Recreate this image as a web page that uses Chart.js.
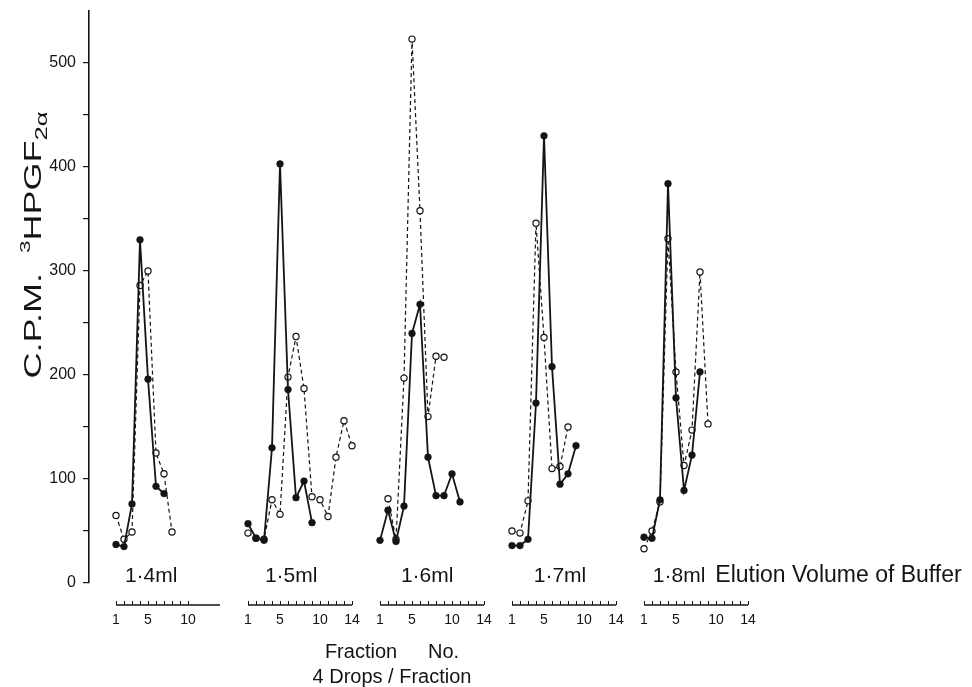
<!DOCTYPE html>
<html>
<head>
<meta charset="utf-8">
<script src="https://cdn.jsdelivr.net/npm/chart.js@4.4.1/dist/chart.umd.min.js"></script>
<style>
  html, body { margin: 0; padding: 0; background: #fff; }
  #wrap { width: 972px; height: 687px; }
</style>
</head>
<body>
<div id="wrap"><canvas id="chart" width="972" height="687"></canvas></div>
<script>
// === DATA ===
// one panel per elution volume
const volumes = ['1·4ml', '1·5ml', '1·6ml', '1·7ml', '1·8ml'];

// C.P.M. per fraction, first value = fraction 1
// filled dots, solid line
const solid14 = [37, 35, 76, 330, 196, 93, 86];
const solid15 = [57, 43, 41, 130, 403, 186, 82, 98, 58];
const solid16 = [41, 70, 40, 74, 240, 268, 121, 84, 84, 105, 78];
const solid17 = [36, 36, 42, 173, 430, 208, 95, 105, 132];
const solid18 = [44, 43, 80, 384, 178, 89, 123, 203];

// open circles, dashed line
const open14 = [65, 42, 49, 286, 300, 125, 105, 49];
const open15 = [48, 43, 42, 80, 66, 198, 237, 187, 83, 80, 64, 121, 156, 132];
const open16 = [null, 81, 42, 197, 523, 358, 160, 218, 217];
const open17 = [50, 48, 79, 346, 236, 110, 112, 150];
const open18 = [33, 50, 78, 331, 203, 113, 147, 299, 153];

const solidSeries = [solid14, solid15, solid16, solid17, solid18];
const openSeries = [open14, open15, open16, open17, open18];

// fraction scale under each panel
const fractionLabels = [[1, 5, 10], [1, 5, 10, 14], [1, 5, 10, 14], [1, 5, 10, 14], [1, 5, 10, 14]];
const fractionTickCount = [10, 14, 14, 14, 14];
const fractionAxisEnd = 14;

const yMax = 550;
const yStep = 50;

// === LAYOUT (fraction units) ===
const PANEL_STEP = 16.5;          // distance between panels, in fractions
const X_MIN = -2.375, X_MAX = 106.75;
const volumeLabelAt = [5.4, 6.4, 6.9, 7.0, 2.1];
const FONT = "'Liberation Sans', Arial, sans-serif";
const INK = '#141414';

function xOf(panel, fraction) {
    return panel * PANEL_STEP + fraction;
}

function toPoints(panel, values) {
    const pts = [];
    values.forEach((v, i) => {
        if (v !== null) pts.push({ x: xOf(panel, i + 1), y: v });
    });
    return pts;
}

const datasets = [];
volumes.forEach((vol, p) => {
    datasets.push({
        label: vol + ' solid',
        data: toPoints(p, solidSeries[p]),
        borderColor: INK,
        borderWidth: 1.8,
        pointRadius: 3.4,
        pointBackgroundColor: INK,
        pointBorderColor: INK,
        pointBorderWidth: 0.5,
        tension: 0
    });
});
volumes.forEach((vol, p) => {
    datasets.push({
        label: vol + ' open',
        data: toPoints(p, openSeries[p]),
        borderColor: INK,
        borderWidth: 1.2,
        borderDash: [4, 3],
        pointRadius: 3.1,
        pointBackgroundColor: '#fff',
        pointBorderColor: INK,
        pointBorderWidth: 1.2,
        tension: 0
    });
});

// === extra drawing: axis title, panel labels, fraction scales ===
const decorPlugin = {
    id: 'decor',
    afterDraw(chart) {
        const ctx = chart.ctx;
        const xs = chart.scales.x;
        ctx.save();
        ctx.fillStyle = INK;
        ctx.strokeStyle = INK;

        // y title: C.P.M. 3HPGF2α
        ctx.save();
        ctx.translate(41, 245);
        ctx.rotate(-Math.PI / 2);
        ctx.scale(1.5, 1);
        const parts = [
            { t: 'C.P.M.  ', size: 24, dy: 0 },
            { t: '3', size: 15, dy: -11 },
            { t: 'HPGF', size: 24, dy: 0 },
            { t: '2α', size: 17, dy: 6 }
        ];
        let total = 0;
        parts.forEach(pt => { ctx.font = pt.size + 'px ' + FONT; pt.w = ctx.measureText(pt.t).width; total += pt.w; });
        let cx = -total / 2;
        ctx.textBaseline = 'alphabetic';
        ctx.textAlign = 'left';
        parts.forEach(pt => {
            ctx.font = pt.size + 'px ' + FONT;
            ctx.fillText(pt.t, cx, pt.dy);
            cx += pt.w;
        });
        ctx.restore();

        // panel labels
        ctx.font = '21px ' + FONT;
        ctx.textBaseline = 'alphabetic';
        volumes.forEach((vol, p) => {
            const x = xs.getPixelForValue(xOf(p, volumeLabelAt[p]));
            if (p === volumes.length - 1) {
                ctx.textAlign = 'left';
                ctx.fillText(vol, x, 582);
                const w = ctx.measureText(vol).width;
                ctx.font = '23px ' + FONT;
                ctx.fillText('Elution Volume of Buffer', x + w + 10, 582);
                ctx.font = '21px ' + FONT;
            } else {
                ctx.textAlign = 'center';
                ctx.fillText(vol, x, 582);
            }
        });

        // fraction scales
        const yLine = 605;
        volumes.forEach((vol, p) => {
            const a = xs.getPixelForValue(xOf(p, 1));
            const b = xs.getPixelForValue(xOf(p, fractionAxisEnd));
            ctx.lineWidth = 1.5;
            ctx.beginPath();
            ctx.moveTo(a, yLine);
            ctx.lineTo(b, yLine);
            ctx.stroke();
            ctx.lineWidth = 1;
            for (let f = 1; f <= fractionTickCount[p]; f++) {
                const x = Math.round(xs.getPixelForValue(xOf(p, f))) + 0.5;
                ctx.beginPath();
                ctx.moveTo(x, yLine);
                ctx.lineTo(x, yLine - 4);
                ctx.stroke();
            }
            ctx.font = '14px ' + FONT;
            ctx.textAlign = 'center';
            fractionLabels[p].forEach(f => {
                ctx.fillText(String(f), xs.getPixelForValue(xOf(p, f)), 624);
            });
        });

        ctx.font = '20px ' + FONT;
        ctx.textAlign = 'center';
        ctx.fillText('Fraction', 361, 658);
        ctx.textAlign = 'left';
        ctx.fillText('No.', 428, 658);
        ctx.textAlign = 'center';
        ctx.fillText('4 Drops / Fraction', 392, 683);
        ctx.restore();
    }
};

new Chart(document.getElementById('chart'), {
    type: 'line',
    data: { datasets: datasets },
    plugins: [decorPlugin],
    options: {
        responsive: false,
        animation: false,
        layout: { padding: { left: 0, right: 10, top: 11, bottom: 104 } },
        plugins: { legend: { display: false }, tooltip: { enabled: false } },
        scales: {
            x: { type: 'linear', display: false, min: X_MIN, max: X_MAX },
            y: {
                min: 0,
                max: yMax,
                border: { color: INK, width: 1.6 },
                grid: { drawOnChartArea: false, color: INK, lineWidth: 1.2, tickLength: 6 },
                ticks: {
                    stepSize: yStep,
                    color: INK,
                    padding: 7,
                    font: { family: FONT, size: 16 },
                    callback: v => (v % 100 === 0 ? v : '')
                },
                afterBuildTicks: s => { s.ticks = s.ticks.filter(t => t.value <= 500); },
                afterFit: s => { s.width = 89; s.paddingTop = 0; s.paddingBottom = 0; }
            }
        }
    }
});
</script>
</body>
</html>
